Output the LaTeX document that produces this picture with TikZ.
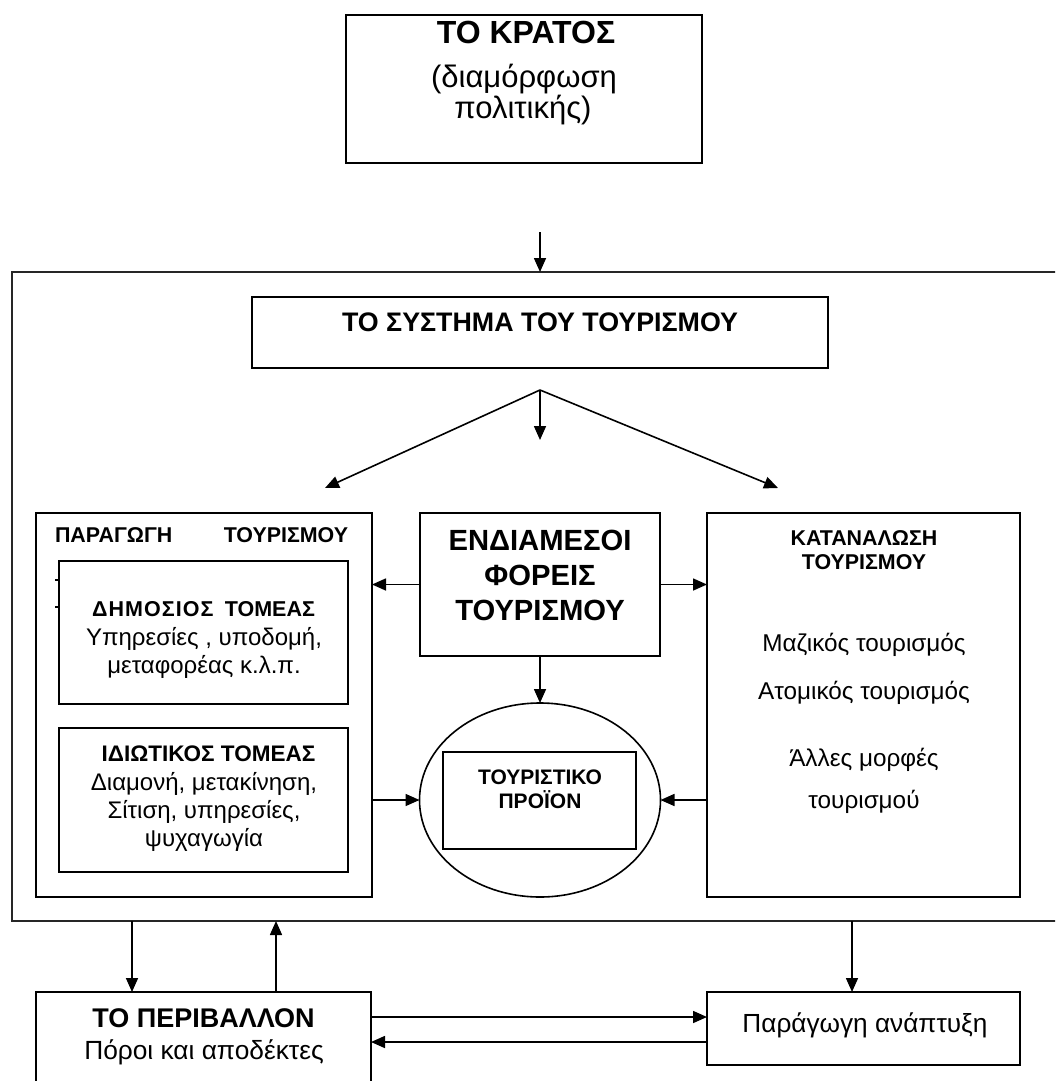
\documentclass[tikz,border=0pt]{standalone}
\usepackage{fontspec}
\setmainfont{Liberation Sans}
\usetikzlibrary{arrows.meta,shapes.geometric}
\newcommand\myfs[1]{\fontsize{#1}{#1}\selectfont}
\begin{document}
\begin{tikzpicture}[x=1pt,y=-1pt,
  box/.style={draw=black, line width=1.8pt, inner sep=0pt, outer sep=0pt, rectangle},
  ell/.style={draw=black, line width=1.6pt, inner sep=0pt, outer sep=0pt, ellipse},
  arr/.style={line width=1.6pt, -{Triangle[length=14pt,width=12pt]}},
  txt/.style={inner sep=0pt, outer sep=0pt, anchor=base},
  tbw/.style={txt, anchor=base west},
  tbe/.style={txt, anchor=base east}]
\useasboundingbox (0,0) rectangle (1055,1081);
\clip (0,0) rectangle (1055,1081);
\fill[white] (0,0) rectangle (1055,1081);

% boxes
\node[box, line width=2.7pt, minimum width=356pt, minimum height=148pt] (kratos) at (524,89) {};
\node[box, draw=black!85, minimum width=1058pt, minimum height=649pt] (outer) at (541,596.5) {};
\node[box, minimum width=576pt, minimum height=71pt] (systema) at (540,332.5) {};
\node[box, minimum width=336pt, minimum height=384pt] (parag) at (204,705) {};
\node[box, minimum width=289pt, minimum height=143pt] (dim) at (203.5,632.5) {};
\node[box, minimum width=289pt, minimum height=144pt] (idio) at (203.5,800) {};
\node[box, minimum width=240pt, minimum height=143pt] (endi) at (540,584.5) {};
\node[box, minimum width=313pt, minimum height=384pt] (kat) at (863.5,705) {};
\node[ell, minimum width=241pt, minimum height=194pt] (prodell) at (540,800) {};
\node[box, line width=1.6pt, minimum width=193pt, minimum height=97pt] (prod) at (539.5,800.5) {};
\node[box, minimum width=335pt, minimum height=98pt] (periv) at (203.5,1041) {};
\node[box, minimum width=313pt, minimum height=73pt] (anap) at (863.5,1028.5) {};

% texts
\node[txt] (k1) at (526,44) {\myfs{32}\bfseries ΤΟ ΚΡΑΤΟΣ};
\node[txt] (k2) at (524,87) {\myfs{31}(διαμόρφωση};
\node[txt] (k3) at (523,118) {\myfs{31}πολιτικής)};

\node[txt] (s1) at (540,331) {\myfs{26.8}\bfseries ΤΟ ΣΥΣΤΗΜΑ ΤΟΥ ΤΟΥΡΙΣΜΟΥ};

\node[tbw] (p1a) at (55,542) {\myfs{21.4}\bfseries ΠΑΡΑΓΩΓΗ};
\node[tbe] (p1b) at (348,542) {\myfs{21.4}\bfseries ΤΟΥΡΙΣΜΟΥ};
\draw[line width=1.4pt] (55,580) -- (59,580);
\draw[line width=1.4pt] (55,607) -- (59,607);

\node[tbw] (d1a) at (92,616) {\myfs{21.5}\bfseries\addfontfeature{LetterSpace=5}ΔΗΜΟΣΙΟΣ};
\node[tbe] (d1b) at (315,616) {\myfs{21.5}\bfseries ΤΟΜΕΑΣ};
\node[txt] (d2) at (204,645) {\myfs{24}Υπηρεσίες , υποδομή,};
\node[txt] (d3) at (204,673) {\myfs{24}μεταφορέας κ.λ.π.};

\node[txt] (i1) at (208.5,761) {\myfs{22.5}\bfseries ΙΔΙΩΤΙΚΟΣ ΤΟΜΕΑΣ};
\node[txt] (i2) at (204,790) {\myfs{24}Διαμονή, μετακίνηση,};
\node[txt] (i3) at (204,818) {\myfs{24}Σίτιση, υπηρεσίες,};
\node[txt] (i4) at (204,846) {\myfs{24}ψυχαγωγία};

\node[txt] (e1) at (540,550) {\myfs{29.2}\bfseries ΕΝΔΙΑΜΕΣΟΙ};
\node[txt] (e2) at (540,585) {\myfs{29.2}\bfseries ΦΟΡΕΙΣ};
\node[txt] (e3) at (540,620) {\myfs{29.2}\bfseries ΤΟΥΡΙΣΜΟΥ};

\node[txt] (c1) at (864,545.5) {\myfs{21.4}\bfseries ΚΑΤΑΝΑΛΩΣΗ};
\node[txt] (c2) at (864,569.5) {\myfs{21.4}\bfseries ΤΟΥΡΙΣΜΟΥ};
\node[txt] (c3) at (864,651) {\myfs{24.3}Μαζικός τουρισμός};
\node[txt] (c4) at (864,699) {\myfs{24.3}Ατομικός τουρισμός};
\node[txt] (c5) at (864,766) {\myfs{24.3}Άλλες μορφές};
\node[txt] (c6) at (864,808) {\myfs{24.3}τουρισμού};

\node[txt] (t1) at (540,784.5) {\myfs{21}\bfseries ΤΟΥΡΙΣΤΙΚΟ};
\node[txt] (t2) at (540,808.5) {\myfs{21}\bfseries ΠΡΟΪΟΝ};

\node[txt] (v1) at (203.5,1027) {\myfs{27}\bfseries ΤΟ ΠΕΡΙΒΑΛΛΟΝ};
\node[txt] (v2) at (204,1059) {\myfs{26.3}Πόροι και αποδέκτες};

\node[txt] (a1) at (865,1032) {\myfs{26.2}Παράγωγη ανάπτυξη};

% connectors
\coordinate (kstart) at (540,232);
\draw[arr] (kstart) -- (kstart |- outer.north);

\coordinate (apex) at (540,390);
\coordinate (tipL) at (325,488);
\coordinate (tipM) at (540,440);
\coordinate (tipR) at (778,488);
\draw[arr] (apex) -- (tipL);
\draw[arr] (apex) -- (tipM);
\draw[arr] (apex) -- (tipR);

\draw[arr] (endi.west) -- (endi.west -| parag.east);
\draw[arr] (endi.east) -- (endi.east -| kat.west);
\draw[arr] (endi.south) -- (prodell.north);
\draw[arr] (parag.east |- prodell.west) -- (prodell.west);
\draw[arr] (kat.west |- prodell.east) -- (prodell.east);

\coordinate (xa) at (132,0);
\coordinate (xb) at (276,0);
\coordinate (xc) at (852,0);
\coordinate (ya) at (0,1017);
\coordinate (yb) at (0,1042);
\draw[arr] (xa |- outer.south) -- (xa |- periv.north);
\draw[arr] (xb |- periv.north) -- (xb |- outer.south);
\draw[arr] (xc |- outer.south) -- (xc |- anap.north);
\draw[arr] (periv.east |- ya) -- (anap.west |- ya);
\draw[arr] (anap.west |- yb) -- (periv.east |- yb);
\end{tikzpicture}
\end{document}
